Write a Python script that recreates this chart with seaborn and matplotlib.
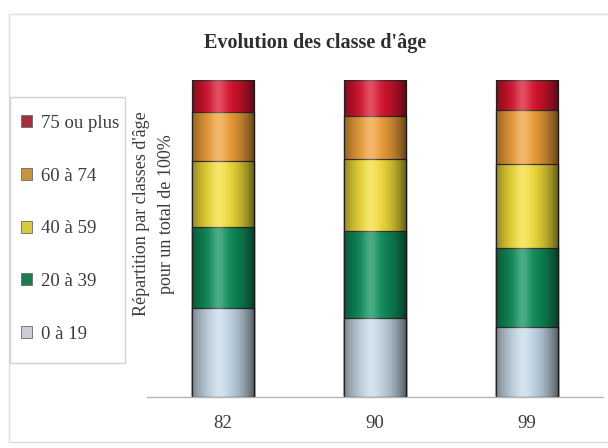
import numpy as np
import pandas as pd
import matplotlib
matplotlib.use("Agg")
import matplotlib.pyplot as plt
import seaborn as sns
from matplotlib.patches import Patch, Rectangle

# Répartition (%) des classes d'âge par année de recensement
annees = ["82", "90", "99"]
classes = ["0 à 19", "20 à 39", "40 à 59", "60 à 74", "75 ou plus"]
part_0_19 = [28.0, 25.0, 22.0]
part_20_39 = [25.5, 27.5, 25.0]
part_40_59 = [21.0, 22.5, 26.5]
part_60_74 = [15.5, 13.5, 17.0]
part_75_plus = [10.0, 11.5, 9.5]

couleurs = ["#c6d9e8", "#10905c", "#f3dd3a", "#efa03a", "#da1530"]
couleurs_legende = ["#c9ced6", "#1b7c52", "#d6cb3e", "#c8953e", "#a5303d"]

df = pd.DataFrame({
    "annee": annees,
    classes[0]: part_0_19,
    classes[1]: part_20_39,
    classes[2]: part_40_59,
    classes[3]: part_60_74,
    classes[4]: part_75_plus,
})
cumul = df[classes].cumsum(axis=1)

sns.set_theme(style="white")
plt.rcParams["font.family"] = ["Liberation Serif", "DejaVu Serif"]
texte = "#3c3c3c"

fig = plt.figure(figsize=(6.08, 4.48), dpi=100)
fig.patch.set_facecolor("white")
ax = fig.add_axes([147 / 608, 1 - 397 / 448, 456 / 608, 317 / 448])

# barres empilées : on trace les cumuls du haut vers le bas
for i in range(len(classes) - 1, -1, -1):
    sns.barplot(x=df["annee"], y=cumul[classes[i]], order=annees,
                color=couleurs[i], saturation=1, width=0.41,
                edgecolor="#3a3434", linewidth=0.9, ax=ax, zorder=2)

ax.set_xlim(-0.5, 2.5)
ax.set_ylim(0, 100)

# effet cylindrique : ombrage horizontal sur chaque colonne
t = np.linspace(0, 1, 200)
sombre = 0.6 * (np.abs(t - 0.45) / 0.55) ** 2.0
clair = 0.25 * np.exp(-((t - 0.42) / 0.13) ** 2)
ombre = np.zeros((1, t.size, 4))
ombre[..., 3] = sombre
reflet = np.ones((1, t.size, 4))
reflet[..., 3] = clair
groupes = {}
for p in ax.patches:
    groupes.setdefault(round(p.get_x(), 4), []).append(p)
for x0, barres in groupes.items():
    larg = barres[0].get_width()
    haut = max(b.get_height() for b in barres)
    ext = [x0, x0 + larg, 0, haut]
    ax.imshow(reflet, extent=ext, aspect="auto", zorder=3, interpolation="bilinear")
    ax.imshow(ombre, extent=ext, aspect="auto", zorder=3, interpolation="bilinear")
ax.set_xlim(-0.5, 2.5)
ax.set_ylim(0, 100)

for s in ["left", "top", "right"]:
    ax.spines[s].set_visible(False)
ax.spines["bottom"].set_color("#b4b4b4")
ax.spines["bottom"].set_linewidth(1.0)
ax.set_yticks([])
ax.set_xticks(range(len(annees)))
ax.set_xticklabels(annees)
ax.tick_params(axis="x", length=0, pad=13, labelsize=13.5, labelcolor=texte)
ax.set_xticks([0.5, 1.5], minor=True)
ax.tick_params(axis="x", which="minor", length=3, width=1, color="#b4b4b4",
               direction="in")
ax.set_xlabel("")
ax.set_ylabel("")

fig.text(315 / 608, 1 - 43 / 448, "Evolution des classe d'âge",
         ha="center", va="center", fontsize=14.5, fontweight="bold", color="#2e2e2e")

fig.text(154 / 608, 1 - 214 / 448,
         "Répartition par classes d'âge\npour un total de 100%",
         rotation=90, ha="center", va="center", multialignment="center",
         fontsize=13, color=texte, linespacing=1.55)

# cadre extérieur
fig.patches.append(Rectangle((9 / 608, 1 - 442 / 448), 700 / 608, 428 / 448,
                             transform=fig.transFigure, fill=False,
                             edgecolor="#dedede", linewidth=1.0))

# cadre de la légende
fig.patches.append(Rectangle((10 / 608, 1 - 363 / 448), 115 / 608, 266 / 448,
                             transform=fig.transFigure, fill=False,
                             edgecolor="#d2d2d2", linewidth=1.0))

poignees = [Patch(facecolor=couleurs_legende[i], edgecolor="#6a6a6a", linewidth=0.6)
            for i in range(len(classes) - 1, -1, -1)]
etiquettes = [classes[i] for i in range(len(classes) - 1, -1, -1)]
leg = fig.legend(poignees, etiquettes, loc="upper left",
                 bbox_to_anchor=(21 / 608, 1 - 115 / 448),
                 bbox_transform=fig.transFigure, borderaxespad=0, borderpad=0,
                 frameon=False, fontsize=13.5, labelspacing=1.9,
                 handlelength=0.6, handleheight=0.6, handletextpad=0.45,
                 labelcolor=texte)

fig.savefig("out.png", dpi=100, facecolor="white")
